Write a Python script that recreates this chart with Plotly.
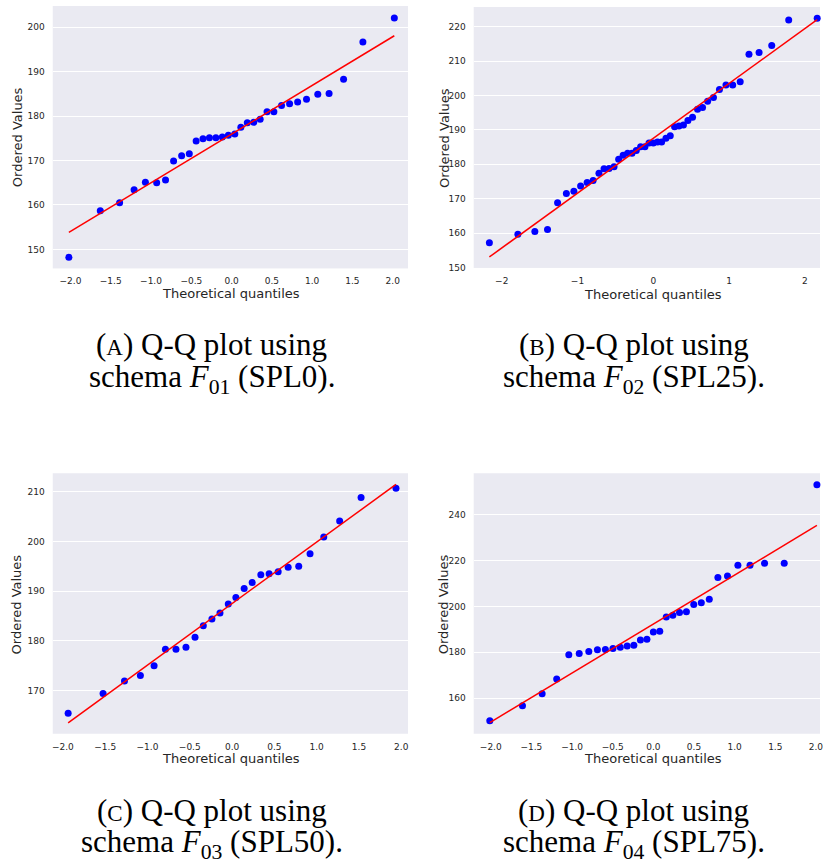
import numpy as np
import plotly.graph_objects as go

# ---- data (theoretical quantile, ordered value) ----
a_q = [-2.02, -1.63, -1.39, -1.21, -1.07, -0.93, -0.82, -0.72, -0.62, -0.525, -0.44, -0.355,
       -0.275, -0.195, -0.115, -0.04, 0.04, 0.115, 0.195, 0.275, 0.355, 0.44, 0.525, 0.62,
       0.72, 0.82, 0.93, 1.07, 1.21, 1.39, 1.63, 2.02]
a_v = [148.2, 158.7, 160.5, 163.4, 165.1, 165.0, 165.6, 169.9, 171.1, 171.5, 174.4, 174.9,
       175.1, 175.1, 175.3, 175.7, 176.0, 177.5, 178.5, 178.6, 179.3, 181.0, 181.0, 182.4,
       182.8, 183.2, 183.8, 184.9, 185.1, 188.3, 196.7, 202.1]

b_q = [-2.163, -1.787, -1.563, -1.396, -1.263, -1.147, -1.048, -0.959, -0.873, -0.794, -0.717,
       -0.650, -0.584, -0.518, -0.457, -0.398, -0.339, -0.281, -0.224, -0.167, -0.110, -0.056, 0.0,
       0.056, 0.110, 0.167, 0.224, 0.281, 0.339, 0.398, 0.457, 0.518, 0.584, 0.650, 0.717,
       0.794, 0.873, 0.959, 1.048, 1.147, 1.263, 1.396, 1.563, 1.787, 2.163]
b_v = [157.2, 159.7, 160.5, 161.1, 168.8, 171.5, 172.2, 173.7, 174.7, 175.3, 177.4,
       178.7, 178.8, 179.3, 181.5, 182.6, 183.2, 183.2, 184.0, 185.1, 185.1, 186.2, 186.2,
       186.5, 186.5, 187.6, 188.3, 190.9, 191.1, 191.4, 192.7, 193.7, 196.0, 196.5, 198.3,
       199.4, 201.7, 203.0, 203.0, 204.0, 212.0, 212.5, 214.5, 221.9, 222.4]

c_q = [-1.938, -1.525, -1.272, -1.084, -0.922, -0.788, -0.663, -0.545, -0.438, -0.340, -0.238,
       -0.143, -0.045, 0.045, 0.143, 0.238, 0.340, 0.438, 0.545, 0.663, 0.788, 0.922, 1.084,
       1.272, 1.525, 1.938]
c_v = [165.4, 169.4, 171.9, 173.0, 175.0, 178.3, 178.3, 178.7, 180.7, 183.0, 184.4,
       185.6, 187.4, 188.7, 190.5, 191.7, 193.3, 193.5, 193.9, 194.8, 195.0, 197.5, 200.9,
       204.1, 208.8, 210.7]

d_q = [-2.012, -1.610, -1.368, -1.189, -1.040, -0.912, -0.794, -0.688, -0.590, -0.497, -0.407,
       -0.322, -0.240, -0.159, -0.079, 0.0, 0.079, 0.159, 0.240, 0.322, 0.407, 0.497, 0.590,
       0.688, 0.794, 0.912, 1.040, 1.189, 1.368, 1.610, 2.012]
d_v = [150.2, 156.7, 161.9, 168.4, 178.9, 179.5, 180.4, 181.1, 181.2, 181.7, 182.2,
       182.8, 183.1, 185.4, 185.7, 188.9, 189.2, 195.4, 196.2, 197.4, 197.7, 200.9, 201.6,
       203.2, 212.6, 213.3, 218.0, 218.0, 218.8, 218.9, 253.1]

x_ticks_half = [-2.0, -1.5, -1.0, -0.5, 0.0, 0.5, 1.0, 1.5, 2.0]
x_ticks_int = [-2, -1, 0, 1, 2]
a_yticks = [150, 160, 170, 180, 190, 200]
b_yticks = [150, 160, 170, 180, 190, 200, 210, 220]
c_yticks = [170, 180, 190, 200, 210]
d_yticks = [160, 180, 200, 220, 240]

SC = "<span style='font-size:23px'>{}</span>"
captions = [
    ("(" + SC.format("A") + ") Q-Q plot using", "schema <i>F</i><sub>01</sub> (SPL0)."),
    ("(" + SC.format("B") + ") Q-Q plot using", "schema <i>F</i><sub>02</sub> (SPL25)."),
    ("(" + SC.format("C") + ") Q-Q plot using", "schema <i>F</i><sub>03</sub> (SPL50)."),
    ("(" + SC.format("D") + ") Q-Q plot using", "schema <i>F</i><sub>04</sub> (SPL75)."),
]

W, H = 823, 866
panels = [
    dict(q=a_q, v=a_v, xr=[-2.22, 2.19], yr=[145.7, 204.8], xt=x_ticks_half, xf=".1f", yt=a_yticks,
         box=(52, 409, 6, 270)),
    dict(q=b_q, v=b_v, xr=[-2.37, 2.20], yr=[149.9, 225.7], xt=x_ticks_int, xf="d", yt=b_yticks,
         box=(475, 823, 7, 269.5)),
    dict(q=c_q, v=c_v, xr=[-2.12, 2.08], yr=[161.3, 213.7], xt=x_ticks_half, xf=".1f", yt=c_yticks,
         box=(52, 409, 476, 738)),
    dict(q=d_q, v=d_v, xr=[-2.21, 2.05], yr=[144.5, 258.1], xt=x_ticks_half, xf=".1f", yt=d_yticks,
         box=(475, 823, 476, 738)),
]

fig = go.Figure()
layout = dict(width=W, height=H, margin=dict(l=0, r=0, t=0, b=0),
              paper_bgcolor="white", plot_bgcolor="#EAEAF2", showlegend=False,
              font=dict(family="DejaVu Sans", color="#262626"))
annotations = []
tickfont = dict(family="DejaVu Sans", size=9, color="#262626")
titlefont = dict(family="DejaVu Sans", size=13, color="#262626")
capfont = dict(family="Liberation Serif", size=31, color="black")

for i, p in enumerate(panels):
    n = "" if i == 0 else str(i + 1)
    xa, ya = "x" + n, "y" + n
    x = np.array(p["q"]); y = np.array(p["v"])
    slope, icpt = np.polyfit(x, y, 1)
    fig.add_trace(go.Scatter(x=p["q"], y=p["v"], mode="markers", xaxis=xa, yaxis=ya,
                             marker=dict(color="#0000FF", size=7, line=dict(width=0)),
                             cliponaxis=False))
    fx = [x.min(), x.max()]
    fig.add_trace(go.Scatter(x=fx, y=[slope * fx[0] + icpt, slope * fx[1] + icpt], mode="lines",
                             xaxis=xa, yaxis=ya, line=dict(color="red", width=1.5)))
    l, r, t, b = p["box"]
    layout["xaxis" + n] = dict(domain=[l / W, r / W], range=p["xr"], anchor=ya,
                               tickvals=p["xt"], tickformat=p["xf"], showgrid=False,
                               zeroline=False, showline=False, ticks="", ticklabelstandoff=6,
                               ticklabeloverflow="allow", tickfont=tickfont)
    layout["yaxis" + n] = dict(domain=[1 - b / H, 1 - t / H], range=p["yr"], anchor=xa,
                               tickvals=p["yt"], showgrid=True, gridcolor="white", gridwidth=1,
                               zeroline=False, showline=False, ticks="", ticklabelstandoff=7,
                               tickfont=tickfont)
    # axis titles
    annotations.append(dict(text="Theoretical quantiles", xref="paper", yref="paper",
                            x=(l + (409 - 52) / 2 + 0.5) / W if i % 2 == 0 else 655 / W,
                            y=1 - (t + 289 if i < 2 else t + 287) / H,
                            showarrow=False, font=titlefont, xanchor="center", yanchor="middle"))
    annotations.append(dict(text="Ordered Values", xref="paper", yref="paper",
                            x=(16 if i % 2 == 0 else 445) / W, y=1 - (t + 132) / H, textangle=-90,
                            showarrow=False, font=titlefont, xanchor="center", yanchor="middle"))
    # captions
    cx = 212 if i % 2 == 0 else 636
    cy1 = 347 if i < 2 else 815
    annotations.append(dict(text=captions[i][0], xref="paper", yref="paper", x=cx / W,
                            y=1 - cy1 / H, showarrow=False, font=capfont,
                            xanchor="center", yanchor="middle"))
    annotations.append(dict(text=captions[i][1], xref="paper", yref="paper", x=cx / W,
                            y=1 - (cy1 + 34) / H, showarrow=False, font=capfont,
                            xanchor="center", yanchor="middle"))

layout["annotations"] = annotations
fig.update_layout(**layout)
fig.write_html("out.html")
